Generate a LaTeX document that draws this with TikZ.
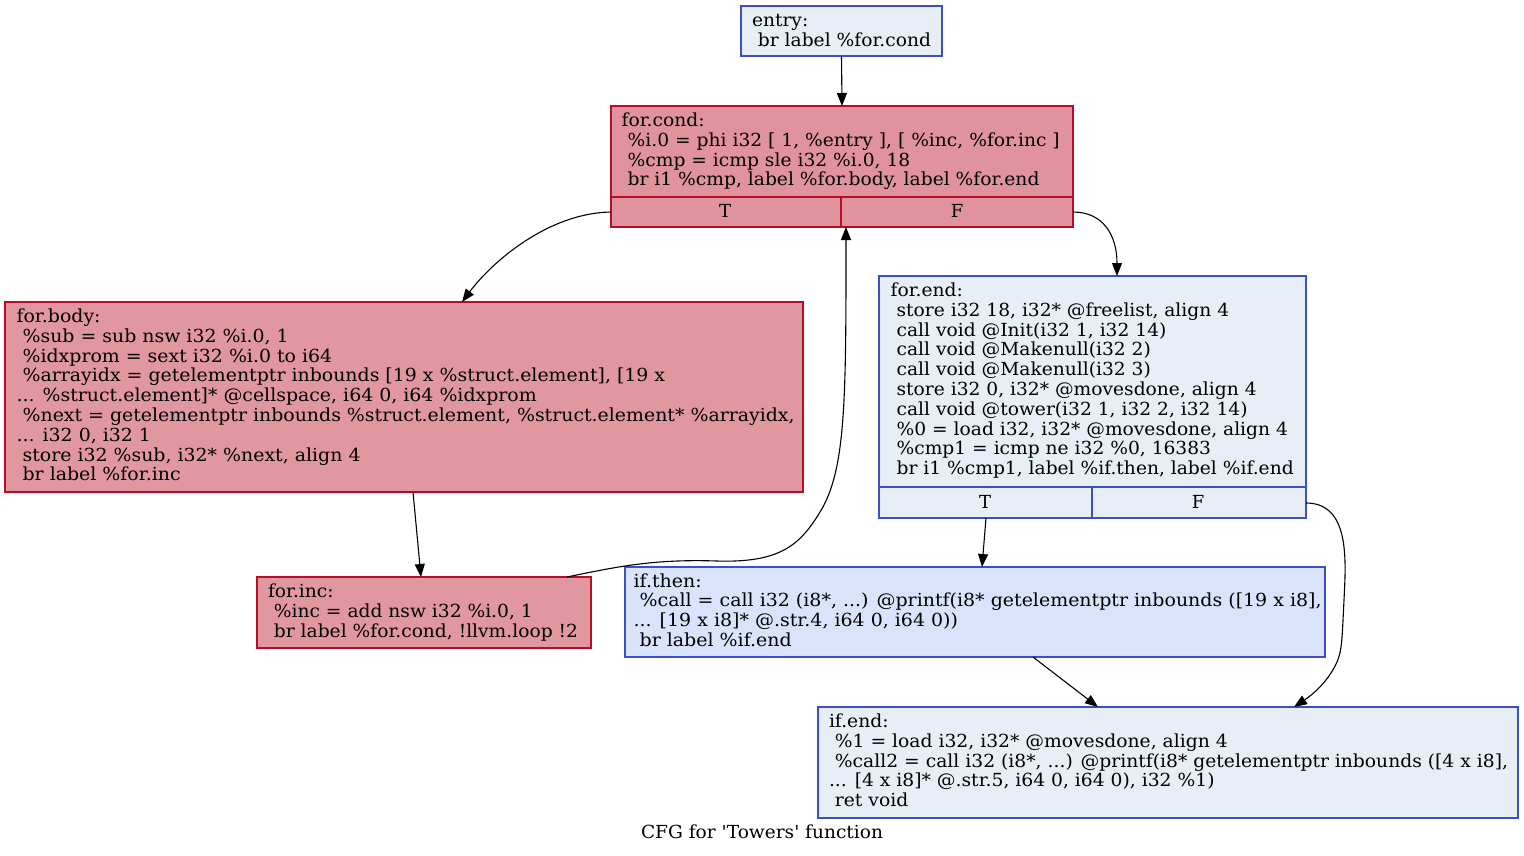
\documentclass[tikz,border=0pt]{standalone}
\usepackage{fontspec}
\setmainfont{DejaVu Serif}
\newfontfamily\qfont{DejaVu Serif}
\usepackage{graphicx}
\usetikzlibrary{arrows.meta,calc}
\definecolor{pinkA}{RGB}{224,147,157}
\definecolor{pinkB}{RGB}{224,151,159}
\definecolor{blueL}{RGB}{232,238,246}
\definecolor{blueM}{RGB}{217,228,252}
\definecolor{bdBlue}{RGB}{61,80,195}
\definecolor{bdRed}{RGB}{183,13,40}
\newcommand\ind{\hspace*{0.318em}}
\newcommand\blk[2]{\resizebox{#1pt}{\height}{\begin{tabular}[t]{@{}l@{}}#2\end{tabular}}}
\begin{document}
\begin{tikzpicture}[x=1pt,y=-1pt,
  font=\fontsize{18}{19.8}\selectfont,
  box/.style={draw, line width=1.1pt, anchor=north west, inner sep=0pt, outer sep=0pt},
  redbox/.style={box, draw=bdRed},
  bluebox/.style={box, draw=bdBlue},
  txt/.style={anchor=base west, inner sep=0pt, outer sep=0pt},
  port/.style={anchor=base, inner sep=0pt},
  sep/.style={line width=1.1pt},
  edge/.style={line width=1.1pt, -{Triangle[length=13pt,width=10pt]}}]
\useasboundingbox (0,0) rectangle (1524,855);

% boxes
\node[bluebox, fill=blueL, minimum width=201pt, minimum height=50pt] (entry) at (741,6) {};
\node[redbox, fill=pinkA, minimum width=462pt, minimum height=121pt] (cond) at (611,106) {};
\node[redbox, fill=pinkB, minimum width=798pt, minimum height=190pt] (body) at (5,302) {};
\node[bluebox, fill=blueL, minimum width=427pt, minimum height=242pt] (fend) at (879,276) {};
\node[redbox, fill=pinkB, minimum width=334pt, minimum height=71pt] (inc) at (257,577) {};
\node[bluebox, fill=blueM, minimum width=700pt, minimum height=90pt] (ithen) at (625,567) {};
\node[bluebox, fill=blueL, minimum width=700pt, minimum height=111pt] (iend) at (818,707) {};

% separators
\draw[sep, draw=bdRed] ($(cond.south west)+(0,-30)$) -- ($(cond.south east)+(0,-30)$);
\draw[sep, draw=bdRed] ($(cond.south west)+(230,0)$) -- ++(0,-30);
\draw[sep, draw=bdBlue] ($(fend.south west)+(0,-31)$) -- ($(fend.south east)+(0,-31)$);
\draw[sep, draw=bdBlue] ($(fend.south west)+(213,0)$) -- ++(0,-31);

% texts
\node[txt] (entryt) at (752,26.5) {\blk{179}{entry:\\ \ind br label \%for.cond}};
\node[txt] (condt) at (621.7,126.5) {\blk{438}{for.cond:\\
 \ind\%i.0 = phi i32 [ 1, \%entry ], [ \%inc, \%for.inc ]\\
 \ind\%cmp = icmp sle i32 \%i.0, 18\\
 \ind br i1 \%cmp, label \%for.body, label \%for.end}};
\node[port] (condT) at (725,217) {T};
\node[port] (condF) at (957,217) {F};
\node[txt] (bodyt) at (16.6,322.5) {\blk{778}{for.body:\\
 \ind\%sub = sub nsw i32 \%i.0, 1\\
 \ind\%idxprom = sext i32 \%i.0 to i64\\
 \ind\%arrayidx = getelementptr inbounds [19 x \%struct.element], [19 x\\
 ... \%struct.element]* @cellspace, i64 0, i64 \%idxprom\\
 \ind\%next = getelementptr inbounds \%struct.element, \%struct.element* \%arrayidx,\\
 ... i32 0, i32 1\\
 \ind store i32 \%sub, i32* \%next, align 4\\
 \ind br label \%for.inc}};
\node[txt] (fendt) at (890.7,296.5) {\blk{403}{for.end:\\
 \ind store i32 18, i32* @freelist, align 4\\
 \ind call void @Init(i32 1, i32 14)\\
 \ind call void @Makenull(i32 2)\\
 \ind call void @Makenull(i32 3)\\
 \ind store i32 0, i32* @movesdone, align 4\\
 \ind call void @tower(i32 1, i32 2, i32 14)\\
 \ind\%0 = load i32, i32* @movesdone, align 4\\
 \ind\%cmp1 = icmp ne i32 \%0, 16383\\
 \ind br i1 \%cmp1, label \%if.then, label \%if.end}};
\node[port] (fendT) at (985,508) {T};
\node[port] (fendF) at (1198,508) {F};
\node[txt] (inct) at (268,597.5) {\blk{310}{for.inc:\\
 \ind\%inc = add nsw i32 \%i.0, 1\\
 \ind br label \%for.cond, !llvm.loop !2}};
\node[txt] (ithent) at (633.6,587) {\blk{688}{if.then:\\
 \ind\%call = call i32 (i8*, ...) @printf(i8* getelementptr inbounds ([19 x i8],\\
 ... [19 x i8]* @.str.4, i64 0, i64 0))\\
 \ind br label \%if.end}};
\node[txt] (iendt) at (829,727.5) {\blk{679}{if.end:\\
 \ind\%1 = load i32, i32* @movesdone, align 4\\
 \ind\%call2 = call i32 (i8*, ...) @printf(i8* getelementptr inbounds ([4 x i8],\\
 ... [4 x i8]* @.str.5, i64 0, i64 0), i32 \%1)\\
 \ind ret void}};
\node[port] (caption) at (762,838) {\resizebox{242pt}{\height}{\qfont CFG for 'Towers' function}};

% edges
\draw[edge] (entry.south) -- (cond.north);
\draw[edge] ($(cond.south west)+(0,-15)$) .. controls (548,213) and (492,262) .. ($(body.north west)+(457,0)$);
\draw[edge] ($(cond.south east)+(0,-15)$) .. controls (1103,212) and (1117,235) .. ($(fend.north west)+(238,0)$);
\draw[edge] ($(body.south west)+(408,0)$) -- ($(inc.north west)+(164,0)$);
\draw[edge] ($(inc.north east)+(-24,0)$) .. controls (620,566) and (655,559) .. (717,561)
   .. controls (780,563) and (800,545) .. (820,512)
   .. controls (846,470) and (846,400) .. ($(cond.south west)+(235,0)$);
\draw[edge] ($(fend.south west)+(107,0)$) -- ($(ithen.north west)+(357,0)$);
\draw[edge] ($(fend.south east)+(0,-15)$) .. controls (1350,503) and (1346,560) .. (1344,600)
   .. controls (1342,640) and (1342,650) .. (1337,662)
   .. controls (1328,682) and (1312,695) .. ($(iend.north west)+(476,0)$);
\draw[edge] ($(ithen.south west)+(408,0)$) -- ($(iend.north west)+(280,0)$);
\end{tikzpicture}
\end{document}
